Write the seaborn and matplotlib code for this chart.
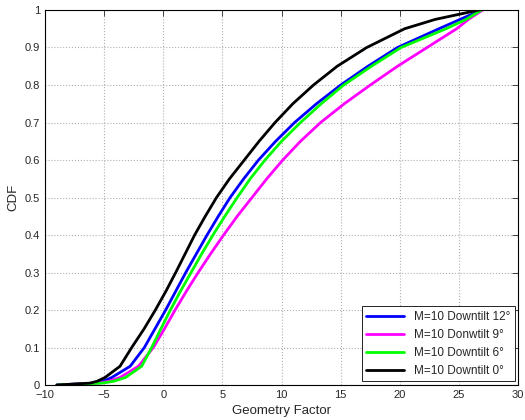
import numpy as np
import pandas as pd
import matplotlib
matplotlib.use("Agg")
import matplotlib.pyplot as plt
import seaborn as sns

# CDF levels and the Geometry Factor values at each level
cdf_levels = [0, 0.005, 0.01, 0.02, 0.05, 0.1, 0.15, 0.2, 0.25, 0.3, 0.35, 0.4, 0.45, 0.5,
              0.55, 0.6, 0.65, 0.7, 0.75, 0.8, 0.85, 0.9, 0.95, 0.975, 1.0]
tilt12 = [-9.0, -5.9, -5.1, -4.36, -2.8, -1.6, -0.7, 0.2, 1.05, 1.9, 2.8, 3.7, 4.65, 5.65,
          6.8, 8.05, 9.5, 11.1, 12.95, 15.0, 17.3, 19.8, 23.3, 25.1, 26.9]
tilt9 = [-9.0, -5.5, -4.6, -3.66, -2.1, -0.84, 0.1, 1.0, 1.95, 2.95, 4.0, 5.1, 6.25, 7.5,
         8.75, 10.1, 11.6, 13.3, 15.3, 17.5, 19.8, 22.3, 24.8, 25.8, 27.0]
tilt6 = [-9.0, -5.2, -4.2, -3.2, -1.83, -0.98, -0.2, 0.6, 1.45, 2.35, 3.25, 4.2, 5.2, 6.25,
         7.35, 8.6, 10.0, 11.6, 13.35, 15.25, 17.6, 20.1, 23.9, 25.6, 26.9]
tilt0 = [-9.0, -6.2, -5.6, -4.93, -3.66, -2.67, -1.62, -0.67, 0.22, 1.05, 1.85, 2.65, 3.55, 4.5,
         5.6, 6.85, 8.1, 9.45, 10.95, 12.7, 14.7, 17.2, 20.4, 23.0, 26.7]

labels = ["M=10 Downtilt 12°", "M=10 Donwtilt 9°", "M=10 Downtilt 6°", "M=10 Downtilt 0°"]
colors = ["#0000ff", "#ff00ff", "#00ff00", "#000000"]

rows = []
for lab, xs in zip(labels, [tilt12, tilt9, tilt6, tilt0]):
    for x, y in zip(xs, cdf_levels):
        rows.append({"gf": x, "cdf": y, "series": lab})
df = pd.DataFrame(rows)

sns.set_style("white")
plt.rcParams["font.family"] = ["Liberation Sans", "DejaVu Sans"]

fig = plt.figure(figsize=(5.25, 4.2), dpi=100)
ax = fig.add_axes([0.0857, 0.0833, 0.9013, 0.8929])

sns.lineplot(data=df, x="gf", y="cdf", hue="series", hue_order=labels,
             palette=dict(zip(labels, colors)), sort=False, linewidth=2, ax=ax)

ax.set_xlim(-10, 30)
ax.set_ylim(0, 1)
ax.set_xticks(np.arange(-10, 31, 5))
ax.set_yticks(np.arange(0, 1.01, 0.1))
ax.set_yticklabels(["0"] + [f"{v:.1f}" for v in np.arange(0.1, 0.95, 0.1)] + ["1"])
ax.grid(True, color="#b0b0b0", linestyle=":", linewidth=0.8)
ax.tick_params(direction="in", top=True, right=True, labelsize=8, length=4, width=0.6)
for s in ax.spines.values():
    s.set_color("black")
    s.set_linewidth(0.8)

ax.set_xlabel("Geometry Factor", fontsize=9.5)
ax.set_ylabel("CDF", fontsize=9.5)

leg = ax.legend(loc="lower right", fontsize=8.5, frameon=True, fancybox=False,
                edgecolor="black", framealpha=1, handlelength=3.2, borderaxespad=0.3)
leg.get_frame().set_linewidth(0.6)
for line in leg.get_lines():
    line.set_linewidth(2)

fig.savefig("out.png", dpi=100)
